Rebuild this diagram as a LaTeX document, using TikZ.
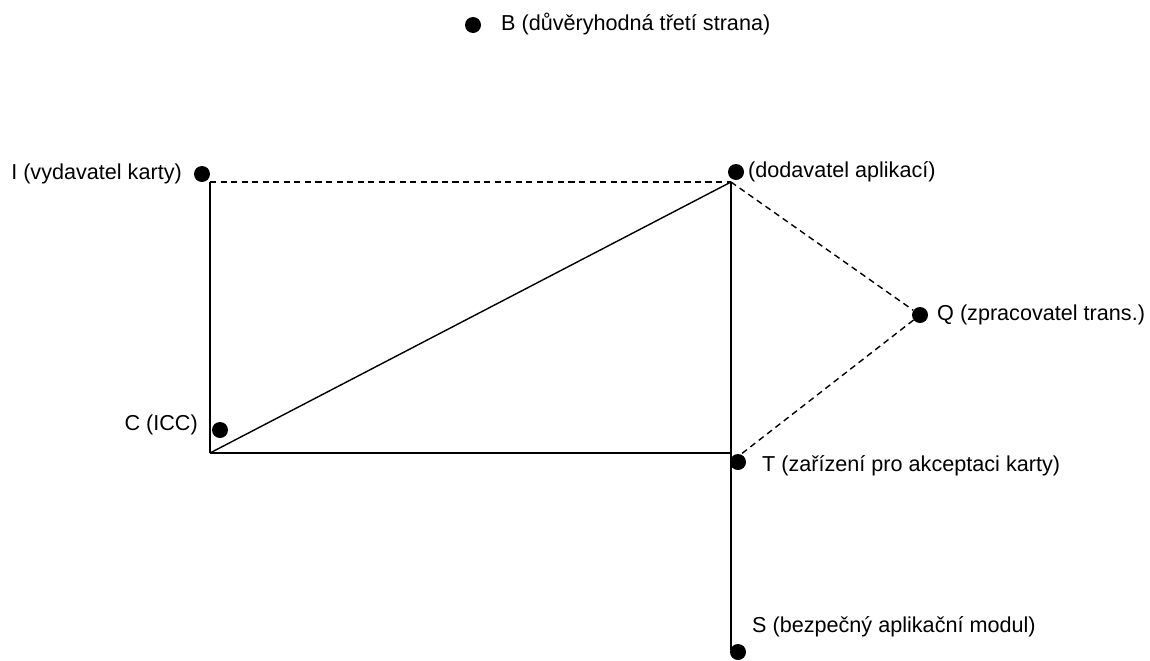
\documentclass[tikz,border=0pt]{standalone}
\usepackage{fontspec}
\setmainfont{Liberation Sans}
\begin{document}
\begin{tikzpicture}[x=0.02cm, y=-0.02cm, font=\fontsize{12.3}{14}\selectfont]
            \useasboundingbox (0,0) rectangle (1150,660);
            \begin{scope}[every node/.style={circle, fill=black, inner sep=0pt, minimum size=0.32cm}]

                \node (B) at (473,25) {};
                \node (I) at (202,174) {};
                \node (A) at (736,172) {};
                \node (Q) at (920,315) {};
                \node (C) at (220,430) {};
                \node (T) at (738,462) {};
                \node (S) at (738,652) {};

            \end{scope}
            \coordinate (Ic) at (210,182);
            \coordinate (Ac) at (731,182);
            \coordinate (Cc) at (210,453);
            \coordinate (Tc) at (731,453);
            \coordinate (Tq) at (740,455);
            \coordinate (Sc) at (731,650);

            \node[anchor=west] at (495,24) {B (důvěryhodná třetí strana)};
            \node[anchor=east] at (188,174) {I (vydavatel karty)};
            \node[anchor=west] at (742,172) {(dodavatel aplikací)};
            \node[anchor=west] at (931,315) {Q (zpracovatel trans.)};
            \node[anchor=east] at (204,425) {C (ICC)};
            \node[anchor=west] at (756,466) {T (zařízení pro akceptaci karty)};
            \node[anchor=west] at (746,627) {S (bezpečný aplikační modul)};

            \path[draw, thick] (Ic) edge (Cc);
            \path[draw, thick] (Cc) edge (Tc);
            \path[draw, thick] (Cc) edge (Ac);
            \path[draw, thick] (Ac) edge (Sc);
            \path[draw, thick, dash pattern=on 3.5pt off 2.5pt] (Ic) edge (Ac);
            \path[draw, thick, dash pattern=on 3.5pt off 2.5pt] (Ac) edge (Q);
            \path[draw, thick, dash pattern=on 3.5pt off 2.5pt] (Q) edge (Tq);
        \end{tikzpicture}
\end{document}
